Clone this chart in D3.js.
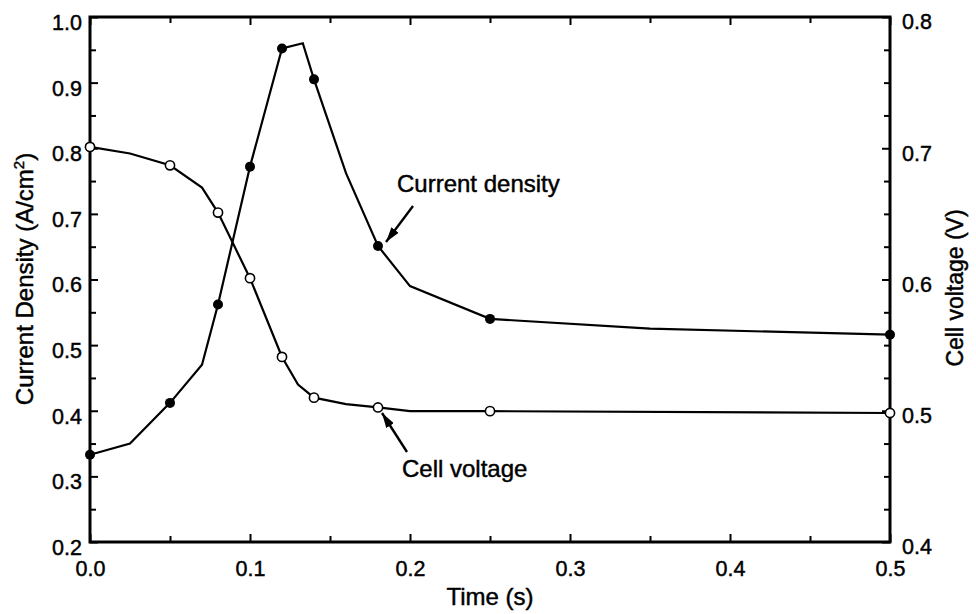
<!DOCTYPE html>
<html><head><meta charset="utf-8">
<script src="https://cdn.jsdelivr.net/npm/d3@7"></script>
<style>
body{margin:0;background:#fff}
text{font-family:"Liberation Sans",Arial,Helvetica,sans-serif;fill:#000;stroke:#000;stroke-width:0.45px}
</style>
</head><body>
<svg id="c" width="976" height="614"></svg>
<script>
// ---- data ----
const timeCD = [0, 0.025, 0.05, 0.07, 0.08, 0.10, 0.12, 0.133, 0.14, 0.16, 0.18, 0.20, 0.25, 0.35, 0.5];
const currentDensity = [0.333, 0.35, 0.412, 0.47, 0.562, 0.772, 0.952, 0.96, 0.905, 0.762, 0.651, 0.59, 0.54, 0.525, 0.516];
const cdMarkerTimes = [0, 0.05, 0.08, 0.10, 0.12, 0.14, 0.18, 0.25, 0.5];

const timeV = [0, 0.025, 0.05, 0.07, 0.08, 0.10, 0.12, 0.13, 0.14, 0.16, 0.18, 0.20, 0.25, 0.5];
const cellVoltage = [0.701, 0.696, 0.687, 0.670, 0.651, 0.601, 0.541, 0.52, 0.51, 0.505, 0.5025, 0.4997, 0.4997, 0.4983];
const vMarkerTimes = [0, 0.05, 0.08, 0.10, 0.12, 0.14, 0.18, 0.25, 0.5];

const xMajor = [0, 0.1, 0.2, 0.3, 0.4, 0.5];
const xMinor = [0.05, 0.15, 0.25, 0.35, 0.45];
const yLeftMajor = [0.2, 0.3, 0.4, 0.5, 0.6, 0.7, 0.8, 0.9, 1.0];
const yLeftMinor = [0.25, 0.35, 0.45, 0.55, 0.65, 0.75, 0.85, 0.95];
const yRightMajor = [0.4, 0.5, 0.6, 0.7, 0.8];
const yRightMinor = [0.425, 0.45, 0.475, 0.525, 0.55, 0.575, 0.625, 0.65, 0.675, 0.725, 0.75, 0.775];

const xTitle = "Time (s)";
const yLeftTitle = ["Current Density (A/cm", "2", ")"];
const yRightTitle = "Cell voltage (V)";
const annotCD = "Current density";
const annotV = "Cell voltage";

// ---- layout ----
const L = 90, R = 890, T = 17, B = 542;
const svg = d3.select("#c");
const x = d3.scaleLinear().domain([0, 0.5]).range([L, R]);
const yL = d3.scaleLinear().domain([0.2, 1.0]).range([B, T]);
const yR = d3.scaleLinear().domain([0.4, 0.8]).range([B, T]);
const fmt = d3.format(".1f");
const tickFont = 21.5;

function styleAxis(g) {
  g.select(".domain").remove();
  g.selectAll("line").attr("stroke", "#000").attr("stroke-width", 2);
  g.selectAll("text").attr("font-size", tickFont).attr("font-family", null).style("fill", "#000");
}

// bottom
svg.append("g").attr("transform", `translate(0,${B})`)
  .call(d3.axisBottom(x).tickValues(xMajor).tickSize(-8).tickPadding(19).tickFormat(fmt)).call(styleAxis);
svg.append("g").attr("transform", `translate(0,${B})`)
  .call(d3.axisBottom(x).tickValues(xMinor).tickSize(-6).tickFormat("")).call(styleAxis);
// top
svg.append("g").attr("transform", `translate(0,${T})`)
  .call(d3.axisTop(x).tickValues(xMajor).tickSize(-8).tickFormat("")).call(styleAxis);
svg.append("g").attr("transform", `translate(0,${T})`)
  .call(d3.axisTop(x).tickValues(xMinor).tickSize(-6).tickFormat("")).call(styleAxis);
// left
const gl = svg.append("g").attr("transform", `translate(${L},0)`)
  .call(d3.axisLeft(yL).tickValues(yLeftMajor).tickSize(-8).tickPadding(8).tickFormat(fmt)).call(styleAxis);
gl.selectAll("text").attr("dy", "0.58em");
svg.append("g").attr("transform", `translate(${L},0)`)
  .call(d3.axisLeft(yL).tickValues(yLeftMinor).tickSize(-6).tickFormat("")).call(styleAxis);
// right
const gr = svg.append("g").attr("transform", `translate(${R},0)`)
  .call(d3.axisRight(yR).tickValues(yRightMajor).tickSize(-8).tickPadding(12).tickFormat(fmt)).call(styleAxis);
gr.selectAll("text").attr("dy", "0.55em");
svg.append("g").attr("transform", `translate(${R},0)`)
  .call(d3.axisRight(yR).tickValues(yRightMinor).tickSize(-6).tickFormat("")).call(styleAxis);

// frame
svg.append("rect").attr("x", L).attr("y", T).attr("width", R - L).attr("height", B - T)
  .attr("fill", "none").attr("stroke", "#000").attr("stroke-width", 3);

// lines
const cdData = timeCD.map((t, i) => ({t, v: currentDensity[i]}));
const vData = timeV.map((t, i) => ({t, v: cellVoltage[i]}));
svg.append("path").datum(cdData)
  .attr("d", d3.line().x(d => x(d.t)).y(d => yL(d.v)))
  .attr("fill", "none").attr("stroke", "#000").attr("stroke-width", 2.2);
svg.append("path").datum(vData)
  .attr("d", d3.line().x(d => x(d.t)).y(d => yR(d.v)))
  .attr("fill", "none").attr("stroke", "#000").attr("stroke-width", 2.2);

// markers
svg.append("g").selectAll("circle").data(cdData.filter(d => cdMarkerTimes.includes(d.t)))
  .join("circle").attr("cx", d => x(d.t)).attr("cy", d => yL(d.v)).attr("r", 5)
  .attr("fill", "#000");
svg.append("g").selectAll("circle").data(vData.filter(d => vMarkerTimes.includes(d.t)))
  .join("circle").attr("cx", d => x(d.t)).attr("cy", d => yR(d.v)).attr("r", 4.6)
  .attr("fill", "#fff").attr("stroke", "#000").attr("stroke-width", 1.6);

// arrow marker
svg.append("defs").append("marker").attr("id", "ah")
  .attr("viewBox", "0 0 15 9").attr("refX", 15).attr("refY", 4.5)
  .attr("markerWidth", 15).attr("markerHeight", 9).attr("markerUnits", "userSpaceOnUse")
  .attr("orient", "auto")
  .append("path").attr("d", "M0,0 L15,4.5 L0,9 z").attr("fill", "#000");

// annotations
svg.append("line").attr("x1", 413).attr("y1", 206).attr("x2", 386).attr("y2", 242)
  .attr("stroke", "#000").attr("stroke-width", 2.4).attr("marker-end", "url(#ah)");
svg.append("text").attr("x", 397).attr("y", 192).attr("font-size", 24).text(annotCD);
svg.append("line").attr("x1", 407).attr("y1", 452).attr("x2", 382).attr("y2", 413)
  .attr("stroke", "#000").attr("stroke-width", 2.4).attr("marker-end", "url(#ah)");
svg.append("text").attr("x", 402).attr("y", 477).attr("font-size", 24).text(annotV);

// titles
svg.append("text").attr("x", (L + R) / 2).attr("y", 605).attr("text-anchor", "middle")
  .attr("font-size", 24).text(xTitle);
const lt = svg.append("text").attr("transform", "translate(33,279) rotate(-90)")
  .attr("text-anchor", "middle").attr("font-size", 24);
lt.append("tspan").text(yLeftTitle[0]);
lt.append("tspan").attr("dy", -9).attr("font-size", 15).text(yLeftTitle[1]);
lt.append("tspan").attr("dy", 9).text(yLeftTitle[2]);
svg.append("text").attr("transform", "translate(963,288) rotate(-90)")
  .attr("text-anchor", "middle").attr("font-size", 23).text(yRightTitle);
</script>
</body></html>
